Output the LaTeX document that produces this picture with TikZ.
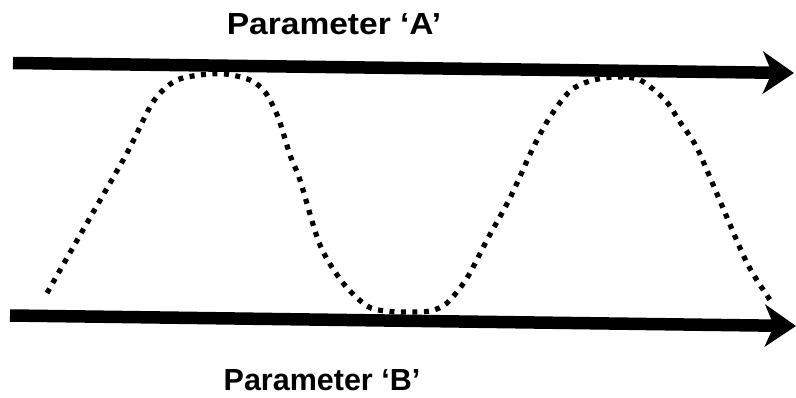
\documentclass[tikz,border=0pt]{standalone}
\usepackage{fontspec}
\setmainfont{Liberation Sans}
\usetikzlibrary{arrows.meta}
\tikzset{
  bigarrow/.style={line width=12.5pt, -{Stealth[length=31pt, width=42pt, inset=9pt]}},
  dotcurve/.style={line width=5.2pt, dash pattern=on 5pt off 6.5pt},
  label/.style={anchor=base, inner sep=0pt, font=\bfseries\fontsize{30.5}{36}\selectfont}
}
\begin{document}
\begin{tikzpicture}[x=1pt, y=-1pt]
\useasboundingbox (0,0) rectangle (796,398);
% arrows
\coordinate (a0) at (13,63);
\coordinate (a1) at (794,73);
\coordinate (b0) at (10,315.5);
\coordinate (b1) at (796,326);
\draw[bigarrow] (a0) -- (a1);
\draw[bigarrow] (b0) -- (b1);
% labels
\node[label, xscale=1.1] (la) at (334,35) {Parameter ‘A’};
\node[label, xscale=1.0] (lb) at (322,390) {Parameter ‘B’};
% dotted curve
\draw[dotcurve] plot[smooth, tension=0.5] coordinates {
 (47,293) (87,223) (127,153) (153,102) (175,81) (200,75) (225,74) (250,80) (265,92)
 (278,117) (290,155) (300,180) (320,245) (343,283) (367,306) (385,311) (405,312)
 (430,311) (447,303) (467,278) (487,240) (510,198) (533,148) (550,117) (570,91)
 (590,81) (615,77) (640,80) (665,100) (680,122) (697,148) (720,201) (747,263) (770,300)};
\end{tikzpicture}
\end{document}
